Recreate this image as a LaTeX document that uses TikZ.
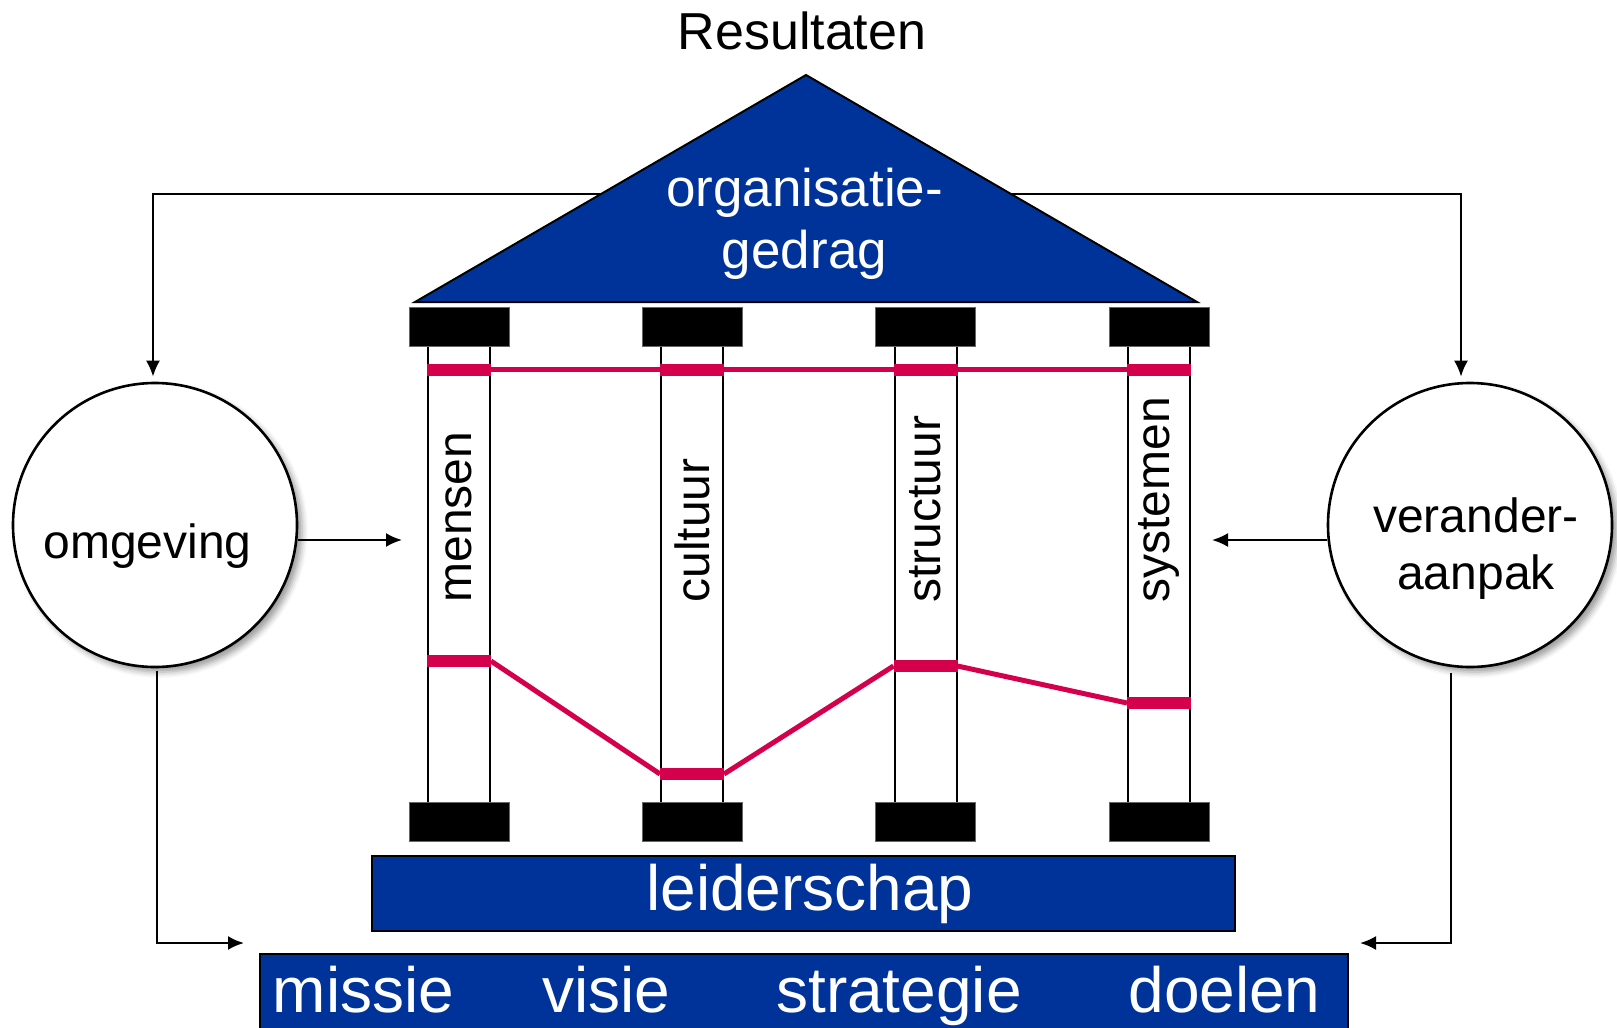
\documentclass[tikz,border=0pt]{standalone}
\usepackage{fontspec}
\setmainfont{Liberation Sans}
\usetikzlibrary{arrows.meta,shadows.blur}
\definecolor{roofblue}{RGB}{0,51,153}
\definecolor{barpink}{RGB}{213,0,75}

\begin{document}
\begin{tikzpicture}[x=0.5pt, y=-0.5pt, >={Latex[length=8pt,width=7pt]},
	bubble/.style={circle, draw, line width=1.3pt, fill=white, minimum size=142pt, inner sep=0pt,
		blur shadow={shadow xshift=2.5pt, shadow yshift=-2.5pt, shadow blur radius=3pt}},
	capital/.style={fill=black, draw=black!60, line width=0.5pt, minimum width=50pt, minimum height=19.5pt, inner sep=0pt},
	pillar/.style={draw, line width=1pt, fill=white, minimum width=31pt, minimum height=228.5pt, inner sep=0pt},
	pillartext/.style={rotate=90, anchor=west, inner sep=0pt, font=\fontsize{24}{28}\selectfont},
	bluebox/.style={fill=roofblue, draw=black, line width=1pt, inner sep=0pt, text=white},
	link/.style={line width=1.1pt},
	thinbar/.style={barpink, line width=2.5pt},
	thickbar/.style={barpink, line width=6pt}]

	\useasboundingbox (0,0) rectangle (1617,1028);

	\node[anchor=base, inner sep=0pt, font=\fontsize{26}{31}\selectfont] (result) at (802,49) {Resultaten};

	% side circles
	\node[bubble] (omg) at (155,525) {};
	\node[anchor=base, inner sep=0pt, font=\fontsize{24}{28}\selectfont] (omgtext) at (147.5,558) {omgeving};
	\node[bubble] (ver) at (1470,525) {};
	\node[align=center, inner sep=0pt, font=\fontsize{24}{28.5}\selectfont] (vertext) at (1476,549) {verander-\\aanpak};

	% feedback from the roof to both circles
	\coordinate (roofmid) at (806,194);
	\draw[link, ->, shorten >=2.5pt] (roofmid) -| ([xshift=-1pt]omg.north);
	\draw[link, ->, shorten >=2.5pt] (roofmid) -| ([xshift=-4.5pt]ver.north);

	% roof
	\coordinate (apex) at (806,75);
	\draw[bluebox] (415,302) -- (apex) -- (1197,302) -- cycle;
	\node[align=center, text=white, inner sep=0pt, font=\fontsize{26.5}{31}\selectfont] (roof) at (804.5,224) {organisatie-\\gedrag};

	% pillars with capitals and bases
	\foreach \px/\word [count=\i] in {459/mensen, 692/cultuur, 925.5/structuur, 1159/systemen} {
		\node[pillar] (p\i) at (\px,574.5) {};
		\node[capital] (top\i) at (\px,326.5) {};
		\node[capital] (foot\i) at (\px,822) {};
		\node[pillartext] (t\i) at (\px,603) {\word};
	}

	% upper level
	\draw[thinbar] (p1.east |- 0,369) -- (p4.west |- 0,369);
	\foreach \i in {1,...,4}
		\draw[thickbar] (p\i.west |- 0,370) -- (p\i.east |- 0,370);

	% lower level
	\draw[thinbar] (p1.east |- 0,661) -- (p2.west |- 0,774)
		(p2.east |- 0,774) -- (p3.west |- 0,666)
		(p3.east |- 0,666) -- (p4.west |- 0,703);
	\foreach \i/\h in {1/661, 2/774, 3/666, 4/703}
		\draw[thickbar] (p\i.west |- 0,\h) -- (p\i.east |- 0,\h);

	% foundation
	\node[bluebox, minimum width=431.5pt, minimum height=37.5pt] (lead) at (803.5,893.5) {};
	\node[anchor=base, text=white, inner sep=0pt, font=\fontsize{32}{36}\selectfont] (leadtext) at (810,910) {leiderschap};
	\node[bluebox, minimum width=544pt, minimum height=53pt] (mission) at (804,1007) {};
	\foreach \wx/\word [count=\i] in {363.5/missie, 606.5/visie, 899/strategie, 1224.5/doelen}
		\node[anchor=base, text=white, inner sep=0pt, font=\fontsize{32}{36}\selectfont] (w\i) at (\wx,1012) {\word};

	% inputs from the circles
	\coordinate (inL) at (402,540);
	\coordinate (inR) at (1212,540);
	\draw[link, ->] (omg.east |- inL) -- (inL);
	\draw[link, ->] (ver.west |- inR) -- (inR);
	\coordinate (baseL) at (244,943);
	\coordinate (baseR) at (1360,943);
	\draw[link, ->] ([xshift=1pt,yshift=-1.5pt]omg.south) |- (baseL);
	\draw[link, ->] ([xshift=-9.5pt,yshift=-2.5pt]ver.south) |- (baseR);
\end{tikzpicture}
\end{document}
